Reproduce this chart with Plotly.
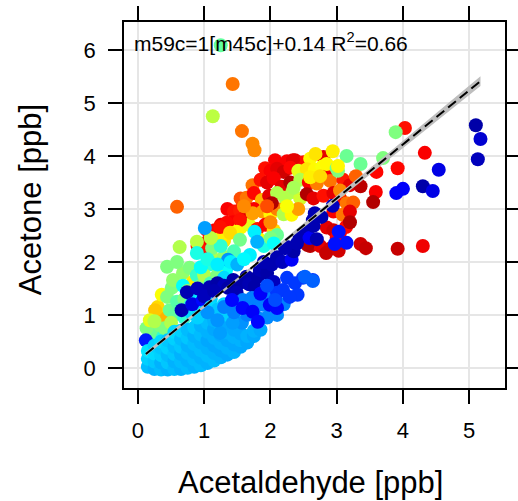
import numpy as np
import plotly.graph_objects as go

# =========================
# DATA  (x = Acetaldehyde [ppb], y = Acetone [ppb], c = colour variable 0..1)
# =========================
red_cloud = [
    (2.25, 3.90, 0.88), (2.37, 3.92, 0.90), (2.50, 3.88, 0.86), (2.60, 3.95, 0.63), (2.80, 3.98, 0.90),
    (2.07, 3.92, 0.88), (1.92, 3.77, 0.86), (2.34, 3.92, 0.90),
    (2.00, 3.72, 0.88), (2.10, 3.76, 0.90), (2.20, 3.70, 0.92), (2.30, 3.78, 0.87), (2.42, 3.72, 0.60),
    (2.55, 3.75, 0.65), (2.67, 3.74, 0.63), (2.78, 3.80, 0.62), (2.90, 3.72, 0.88),
    (1.73, 3.45, 0.76), (1.85, 3.55, 0.86), (1.95, 3.50, 0.90), (2.05, 3.58, 0.88), (2.17, 3.42, 0.90),
    (2.30, 3.50, 0.95), (2.45, 3.55, 0.55), (2.58, 3.50, 0.88), (2.70, 3.48, 0.75), (2.90, 3.53, 0.76),
    (3.10, 3.55, 0.85), (3.20, 3.45, 0.90),
    (1.55, 3.20, 0.80), (1.64, 3.21, 0.76), (1.75, 3.30, 0.87), (1.87, 3.17, 0.70), (1.98, 3.25, 0.90),
    (2.10, 3.30, 0.55), (2.22, 3.21, 0.55), (2.33, 3.32, 0.55), (2.45, 3.20, 0.58), (2.55, 3.28, 0.95),
    (2.65, 3.20, 0.90), (2.80, 3.25, 0.86), (2.95, 3.30, 0.90), (3.05, 3.20, 0.88), (3.15, 3.11, 0.76),
    (3.25, 3.12, 0.78),
    (1.35, 3.00, 0.88), (1.45, 2.95, 0.86), (1.54, 2.98, 0.85), (1.65, 2.90, 0.90), (1.75, 3.00, 0.88),
    (1.88, 2.95, 0.72), (2.00, 2.90, 0.63), (2.10, 3.00, 0.75), (2.20, 2.90, 0.55), (2.32, 2.89, 0.63),
    (2.42, 3.00, 0.72), (2.95, 2.95, 0.88), (3.09, 2.89, 0.76), (3.20, 2.95, 0.90),
    (1.15, 2.55, 0.88), (1.25, 2.70, 0.90), (1.35, 2.60, 0.86), (1.43, 2.75, 0.88), (1.55, 2.65, 0.63),
    (1.68, 2.70, 0.60), (1.80, 2.62, 0.85), (1.92, 2.70, 0.88), (2.05, 2.60, 0.66), (2.85, 2.65, 0.90),
    (2.95, 2.60, 0.92), (3.05, 2.55, 0.88), (3.14, 2.66, 0.87), (3.20, 2.75, 0.95),
    (1.05, 2.38, 0.88), (1.15, 2.30, 0.86), (1.30, 2.40, 0.65), (1.00, 2.20, 0.86), (0.90, 2.30, 0.85),
    (2.55, 2.42, 0.95), (2.60, 2.30, 0.94), (2.75, 2.30, 0.90), (2.90, 2.25, 0.92), (3.00, 2.45, 0.88),
    (2.84, 2.17, 0.93), (3.03, 2.21, 0.92), (2.56, 2.32, 0.95),
    (1.54, 2.79, 0.86), (1.34, 2.74, 0.87), (1.16, 2.60, 0.88), (1.49, 2.57, 0.63), (1.84, 2.42, 0.62),
    (1.24, 2.45, 0.64), (2.02, 3.11, 0.95), (1.73, 2.92, 0.72), (2.00, 2.75, 0.74), (1.04, 2.60, 0.87),
    (1.24, 2.66, 0.86), (1.39, 2.55, 0.66),
    (2.60, 3.60, 0.64), (2.75, 3.62, 0.66), (2.85, 3.85, 0.63), (3.05, 3.35, 0.74), (2.35, 3.40, 0.54),
    (1.60, 3.05, 0.74), (1.95, 3.05, 0.80), (2.25, 3.05, 0.62),
]

green_cloud = [
    (0.15, 0.55, 0.45), (0.23, 0.68, 0.48), (0.33, 0.81, 0.50), (0.38, 0.58, 0.42), (0.36, 0.94, 0.70),
    (0.30, 1.15, 0.66), (0.36, 1.38, 0.62), (0.48, 1.09, 0.48), (0.44, 1.34, 0.50), (0.51, 1.51, 0.50),
    (0.53, 1.66, 0.52), (0.59, 1.25, 0.46), (0.68, 1.79, 0.52), (0.83, 1.62, 0.64), (0.44, 1.91, 0.50),
    (0.59, 2.00, 0.50), (0.78, 1.89, 0.50), (0.89, 1.75, 0.43), (1.08, 1.95, 0.42),
    (1.33, 1.85, 0.38), (0.68, 1.55, 0.38), (0.26, 1.09, 0.68), (0.13, 0.75, 0.50), (0.18, 0.90, 0.60),
    (0.55, 1.00, 0.47), (0.70, 1.30, 0.50), (0.75, 1.45, 0.53), (0.95, 1.55, 0.50), (1.00, 1.75, 0.55),
    (1.10, 1.60, 0.45), (1.20, 1.75, 0.50), (1.15, 2.05, 0.55), (1.30, 2.10, 0.52), (0.65, 1.10, 0.45),
    (0.40, 0.75, 0.50), (0.50, 0.85, 0.55), (0.80, 1.20, 0.42), (0.70, 0.95, 0.42), (0.25, 0.88, 0.55),
    (1.12, 2.26, 0.50), (1.54, 2.42, 0.49), (2.10, 2.51, 0.48), (1.25, 2.30, 0.42), (1.45, 2.20, 0.45),
    (1.90, 2.30, 0.40), (2.00, 2.45, 0.50), (0.89, 2.38, 0.56), (1.10, 2.45, 0.56),
]

cyan_cloud = [
    (0.89, 2.17, 0.40), (1.76, 2.57, 0.36), (1.80, 2.38, 0.30), (1.69, 2.13, 0.36), (1.36, 2.04, 0.27),
    (0.95, 1.90, 0.38), (1.05, 2.05, 0.40), (1.20, 1.95, 0.36), (1.30, 1.70, 0.34), (1.15, 1.50, 0.32),
    (1.00, 1.45, 0.34), (0.85, 1.40, 0.36), (1.40, 2.00, 0.36), (1.50, 1.95, 0.30), (1.60, 2.05, 0.37),
    (0.80, 1.05, 0.34), (0.90, 1.10, 0.36), (1.10, 1.30, 0.33), (0.89, 1.32, 0.35), (0.97, 1.34, 0.37),
    (2.05, 2.35, 0.38),
]

navy_band = [
    (0.66, 1.09, 0.05), (0.74, 1.43, 0.05), (0.82, 1.20, 0.10), (0.90, 1.50, 0.06), (0.98, 1.28, 0.13),
    (1.08, 1.52, 0.05), (1.20, 1.60, 0.04), (1.30, 1.55, 0.06), (1.36, 1.51, 0.04), (1.44, 1.66, 0.04),
    (1.54, 1.60, 0.04), (1.64, 1.72, 0.04), (1.68, 1.58, 0.05), (1.76, 1.53, 0.04), (1.81, 1.72, 0.04),
    (1.84, 1.85, 0.05), (1.95, 1.79, 0.04), (2.02, 1.95, 0.05), (2.10, 2.09, 0.05), (2.18, 2.00, 0.06),
    (2.25, 2.28, 0.05), (2.32, 2.04, 0.12), (2.35, 2.20, 0.04), (2.44, 2.47, 0.05), (2.52, 2.57, 0.05),
    (2.59, 2.45, 0.12), (2.64, 2.79, 0.05), (2.67, 2.92, 0.05), (2.65, 2.68, 0.05), (2.70, 2.43, 0.05),
    (2.77, 2.85, 0.05), (2.94, 3.06, 0.06), (2.22, 2.26, 0.05), (2.05, 1.62, 0.06), (1.49, 1.42, 0.05),
    (0.12, 0.52, 0.15), (1.90, 2.00, 0.05), (2.40, 2.35, 0.05), (1.00, 1.35, 0.06), (1.15, 1.45, 0.05),
]

light_band = [
    (0.15, 0.02, 0.31), (0.15, 0.17, 0.33), (0.15, 0.32, 0.35),
    (0.25, -0.02, 0.30), (0.25, 0.12, 0.32), (0.25, 0.27, 0.34), (0.25, 0.42, 0.33),
    (0.35, -0.03, 0.31), (0.35, 0.10, 0.30), (0.35, 0.24, 0.33), (0.35, 0.38, 0.32), (0.35, 0.50, 0.34),
    (0.45, -0.03, 0.30), (0.45, 0.10, 0.32), (0.45, 0.24, 0.31), (0.45, 0.38, 0.33), (0.45, 0.52, 0.32),
    (0.55, -0.02, 0.31), (0.55, 0.12, 0.30), (0.55, 0.26, 0.32), (0.55, 0.40, 0.31), (0.55, 0.55, 0.33),
    (0.55, 0.68, 0.34),
    (0.65, -0.02, 0.30), (0.65, 0.12, 0.31), (0.65, 0.26, 0.30), (0.65, 0.40, 0.32), (0.65, 0.55, 0.31),
    (0.65, 0.70, 0.33),
    (0.75, 0.00, 0.31), (0.75, 0.14, 0.30), (0.75, 0.28, 0.31), (0.75, 0.42, 0.30), (0.75, 0.57, 0.32),
    (0.75, 0.72, 0.31),
    (0.85, 0.02, 0.30), (0.85, 0.16, 0.31), (0.85, 0.30, 0.30), (0.85, 0.45, 0.31), (0.85, 0.60, 0.30),
    (0.85, 0.76, 0.32),
    (0.95, 0.05, 0.31), (0.95, 0.19, 0.30), (0.95, 0.33, 0.31), (0.95, 0.48, 0.30), (0.95, 0.63, 0.31),
    (0.95, 0.80, 0.30),
    (1.05, 0.09, 0.30), (1.05, 0.23, 0.31), (1.05, 0.37, 0.30), (1.05, 0.52, 0.29), (1.05, 0.68, 0.30),
    (1.05, 0.85, 0.31),
    (1.15, 0.14, 0.31), (1.15, 0.28, 0.30), (1.15, 0.42, 0.29), (1.15, 0.57, 0.30), (1.15, 0.73, 0.29),
    (1.15, 0.90, 0.30),
    (1.25, 0.20, 0.30), (1.25, 0.33, 0.29), (1.25, 0.47, 0.30), (1.25, 0.62, 0.29), (1.25, 0.78, 0.30),
    (1.25, 0.95, 0.31),
    (1.35, 0.25, 0.29), (1.35, 0.38, 0.30), (1.35, 0.52, 0.29), (1.35, 0.67, 0.30), (1.35, 0.83, 0.29),
    (1.45, 0.30, 0.30), (1.45, 0.44, 0.29), (1.45, 0.58, 0.30), (1.45, 0.72, 0.29), (1.45, 0.88, 0.30),
    (1.55, 0.40, 0.29), (1.55, 0.52, 0.30), (1.55, 0.65, 0.29),
    (1.65, 0.48, 0.29), (1.65, 0.60, 0.30), (1.75, 0.60, 0.29), (1.75, 0.70, 0.30), (1.85, 0.72, 0.29),
    (1.00, 1.05, 0.33), (1.10, 1.15, 0.34), (1.20, 1.10, 0.32), (1.35, 1.00, 0.33), (1.45, 1.05, 0.32),
    (1.30, 1.20, 0.34), (0.90, 0.95, 0.33),
]

blue_band = [
    (1.58, 1.28, 0.25), (1.72, 1.32, 0.25), (1.89, 1.42, 0.25), (1.89, 1.19, 0.25), (1.57, 0.85, 0.27),
    (1.43, 0.85, 0.28), (1.24, 0.66, 0.28), (1.30, 1.15, 0.25), (1.45, 1.05, 0.25), (1.65, 1.00, 0.25),
    (1.20, 0.90, 0.27), (1.05, 1.05, 0.27), (2.00, 1.35, 0.25), (1.75, 1.15, 0.25), (2.20, 1.20, 0.25),
    (1.95, 0.95, 0.26), (2.10, 1.00, 0.26), (1.80, 0.95, 0.26),
    (1.42, 1.28, 0.13), (1.58, 1.13, 0.13), (1.73, 1.06, 0.12), (1.81, 0.87, 0.13), (1.99, 1.19, 0.12),
    (2.10, 1.13, 0.13), (1.85, 1.40, 0.12),
    (2.25, 1.70, 0.18), (2.37, 1.60, 0.18), (2.49, 1.70, 0.18), (2.64, 1.66, 0.18), (2.10, 1.42, 0.18),
    (2.19, 1.47, 0.18), (2.41, 1.38, 0.18), (2.07, 1.28, 0.20), (2.29, 1.34, 0.18), (1.95, 1.55, 0.20),
    (2.52, 1.72, 0.22), (2.64, 1.64, 0.22),
]

outliers = [
    (1.25, 6.09, 0.47), (1.43, 5.36, 0.76), (1.13, 4.75, 0.56), (1.57, 4.47, 0.76), (1.73, 4.23, 0.74),
    (1.76, 4.11, 0.74), (0.59, 3.04, 0.78), (0.63, 2.28, 0.55), (1.01, 2.64, 0.28),
    (4.03, 4.53, 0.86), (3.89, 4.45, 0.50), (4.33, 4.06, 0.88), (5.10, 4.58, 0.04), (5.17, 4.32, 0.08),
    (5.13, 3.94, 0.06), (4.54, 3.74, 0.10), (3.15, 4.00, 0.48), (3.36, 3.85, 0.48), (3.70, 3.96, 0.50),
    (3.92, 3.77, 0.87), (3.60, 3.70, 0.87), (3.00, 3.77, 0.48), (3.02, 3.72, 0.50), (2.68, 4.04, 0.65),
    (2.94, 4.09, 0.64), (3.02, 3.81, 0.63),
    (4.30, 3.43, 0.04), (4.45, 3.34, 0.10), (3.90, 3.30, 0.12), (4.00, 3.38, 0.12), (3.59, 3.32, 0.88),
    (3.55, 3.13, 0.95), (3.36, 3.43, 0.94), (3.29, 3.62, 0.78),
    (3.36, 2.34, 0.92), (3.44, 2.26, 0.93), (3.92, 2.25, 0.93), (4.30, 2.30, 0.89),
    (2.97, 2.34, 0.14), (3.15, 2.36, 0.14), (3.03, 2.57, 0.14),
]

# linear fit reported on the chart
fit_slope = 1.02
fit_intercept = 0.14
fit_label = "m59c=1[m45c]+0.14 R<sup>2</sup>=0.66"

jet = ["#00007F", "#0000FF", "#007FFF", "#00FFFF", "#7FFF7F",
       "#FFFF00", "#FF7F00", "#FF0000", "#7F0000"]


def main():
    groups = [red_cloud, green_cloud, cyan_cloud, navy_band, light_band, blue_band, outliers]
    pts = [p for g in groups for p in g]
    x = np.array([p[0] for p in pts])
    y = np.array([p[1] for p in pts])
    c = np.array([p[2] for p in pts])

    fig = go.Figure()
    fig.add_trace(go.Scatter(
        x=x, y=y, mode="markers",
        marker=dict(size=14, color=c, cmin=0, cmax=1,
                    colorscale=[[i / 8, col] for i, col in enumerate(jet)],
                    line=dict(width=0), opacity=1),
        showlegend=False, hoverinfo="skip"))

    # regression line with grey confidence band
    xf = np.linspace(x.min(), x.max(), 60)
    yf = fit_slope * xf + fit_intercept
    half = 0.025 * np.sqrt(1 + ((xf - 1.3) / 1.1) ** 2)
    fig.add_trace(go.Scatter(
        x=np.concatenate([xf, xf[::-1]]), y=np.concatenate([yf + half, (yf - half)[::-1]]),
        fill="toself", fillcolor="#BEBEBE", line=dict(width=0), mode="lines",
        showlegend=False, hoverinfo="skip"))
    fig.add_trace(go.Scatter(
        x=xf, y=yf, mode="lines", line=dict(color="black", width=2, dash="10px,5px"),
        showlegend=False, hoverinfo="skip"))

    axis = dict(showline=True, linecolor="black", linewidth=1.5, mirror="ticks",
                ticks="outside", ticklen=14, tickwidth=1.5, tickcolor="black",
                showgrid=True, gridcolor="#E6E6E6", gridwidth=1.5, zeroline=False,
                tickfont=dict(size=22, color="black"), dtick=1)
    fig.update_xaxes(range=[-0.21, 5.54], ticklabelstandoff=8, **axis)
    fig.update_yaxes(range=[-0.38, 6.53], ticklabelstandoff=8, **axis)

    fig.add_annotation(text=fit_label, xref="paper", yref="paper", x=0.02, y=0.985,
                       xanchor="left", yanchor="top", showarrow=False,
                       font=dict(size=21, color="black"))
    fig.add_annotation(text="Acetaldehyde [ppb]", xref="paper", yref="paper", x=0.49, y=-0.257,
                       xanchor="center", yanchor="middle", showarrow=False,
                       font=dict(size=31, color="black"))
    fig.add_annotation(text="Acetone [ppb]", xref="paper", yref="paper", x=-0.245, y=0.515,
                       xanchor="center", yanchor="middle", textangle=-90, showarrow=False,
                       font=dict(size=31, color="black"))

    fig.update_layout(width=518, height=501,
                      margin=dict(l=124, r=13, t=22, b=113, autoexpand=False),
                      plot_bgcolor="white", paper_bgcolor="white",
                      font=dict(family="Liberation Sans, Arial, sans-serif"))
    fig.write_html("out.html", config={"responsive": False, "displayModeBar": False},
                   post_script="document.body.style.margin='0px';")


if __name__ == "__main__":
    main()
